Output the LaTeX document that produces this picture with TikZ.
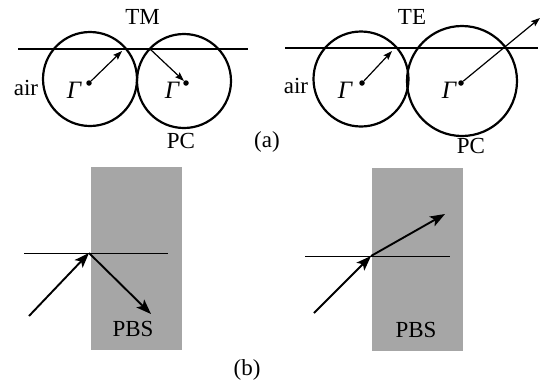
\documentclass[tikz,border=0pt]{standalone}
\usepackage{fontspec}
\setmainfont{Liberation Serif}
\usetikzlibrary{arrows.meta}
\definecolor{pbsgray}{RGB}{166,166,166}
\tikzset{
  lbl/.style={inner sep=0pt, font=\fontsize{23}{26}\selectfont},
  gam/.style={inner sep=0pt, font=\fontsize{25}{28}\selectfont\itshape},
  ring/.style={draw, line width=2.2pt},
  iface/.style={line width=1.3pt},
  ray/.style={line width=1.2pt, -{Stealth[length=9pt,width=6.5pt,inset=1.5pt]}},
  bigray/.style={line width=1.9pt, -{Stealth[length=15pt,width=11pt,inset=3.5pt]}},
  dotc/.style={circle, fill, inner sep=0pt, minimum size=5.5pt},
  block/.style={fill=pbsgray, draw=none}
}
\begin{document}
\begin{tikzpicture}[x=1pt,y=-1pt]
\useasboundingbox (0,0) rectangle (545,384);
% ---------- (a) TM ----------
\draw[iface] (18,49) coordinate (tmL) -- (248,49) coordinate (tmR);
\node[ring, circle, minimum size=94pt, inner sep=0pt] (c1) at (90,79) {};
\node[ring, circle, minimum size=94pt, inner sep=0pt] (c2) at (184,81) {};
\node[dotc] (d1) at (89,83) {};
\node[dotc] (d2) at (186,83) {};
\coordinate (p1) at (122,51);
\coordinate (p2) at (150,49);
\draw[ray] (d1) -- (p1);
\draw[ray] (p2) -- (d2.north west);
\node[lbl] (tm) at (142.5,17) {TM};
\node[lbl] (air1) at (26,88) {air};
\node[gam] (g1) at (74,90) {Γ};
\node[gam] (g2) at (172,90) {Γ};
\node[lbl] (pc1) at (181,141) {PC};
\node[lbl] (la) at (267,142) {(a)};
% ---------- (a) TE ----------
\draw[iface] (285,48) coordinate (teL) -- (538,48) coordinate (teR);
\node[ring, circle, minimum size=95pt, inner sep=0pt] (c3) at (361,79) {};
\node[ring, circle, minimum size=110pt, inner sep=0pt] (c4) at (462,81) {};
\node[dotc] (d3) at (362,83) {};
\node[dotc] (d4) at (461,83) {};
\coordinate (p3) at (392,51);
\coordinate (p4) at (540,18);
\draw[ray] (d3) -- (p3);
\draw[ray] (d4) -- (p4);
\node[lbl] (te) at (412,17) {TE};
\node[lbl] (air2) at (296,86) {air};
\node[gam] (g3) at (345,90) {Γ};
\node[gam] (g4) at (449,90) {Γ};
\node[lbl] (pc2) at (471,146) {PC};
% ---------- (b) left ----------
\node[block, minimum width=91pt, minimum height=183pt, inner sep=0pt, anchor=north west] (b1) at (91,167) {};
\draw[line width=1pt] (24,253) coordinate (l1a) -- (168,253) coordinate (l1b);
\coordinate (h1) at (89,253);
\coordinate (s1) at (29,316);
\coordinate (e1) at (151,314);
\draw[bigray] (s1) -- (h1);
\draw[bigray] (h1) -- (e1);
\node[lbl] (pbs1) at (133,329) {PBS};
% ---------- (b) right ----------
\node[block, minimum width=91pt, minimum height=183pt, inner sep=0pt, anchor=north west] (b2) at (372,168) {};
\draw[line width=1pt] (305,256) coordinate (l2a) -- (450,256) coordinate (l2b);
\coordinate (h2) at (371,256);
\coordinate (s2) at (314,313);
\coordinate (e2) at (445,214);
\draw[bigray] (s2) -- (h2);
\draw[bigray] (h2) -- (e2);
\node[lbl] (pbs2) at (416,330) {PBS};
\node[lbl] (lb) at (247,370) {(b)};
\end{tikzpicture}
\end{document}
